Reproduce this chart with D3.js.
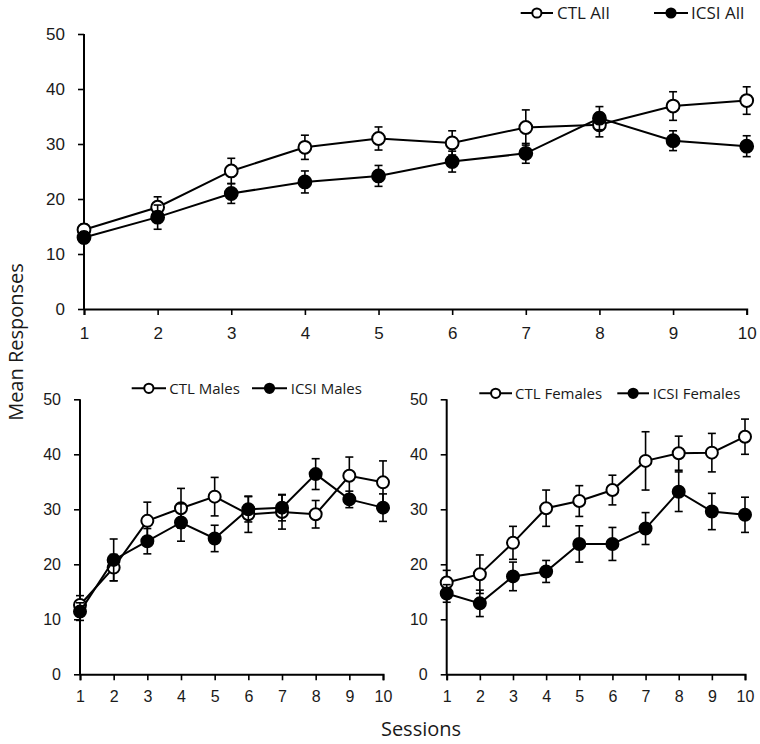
<!DOCTYPE html>
<html>
<head>
<meta charset="utf-8">
<script src="https://cdn.jsdelivr.net/npm/d3@7/dist/d3.min.js"></script>
<style>
  html, body { margin: 0; padding: 0; background: #fff; }
  svg { display: block; font-family: "Open Sans", sans-serif; }
</style>
</head>
<body>
<svg id="chart" width="760" height="744"></svg>
<script>
// ---- Data ----
const sessions = [1, 2, 3, 4, 5, 6, 7, 8, 9, 10];
const yTicks = [0, 10, 20, 30, 40, 50];

const ctlAll = [14.4, 18.5, 25.1, 29.4, 31.0, 30.2, 33.0, 33.5, 36.9, 37.9];
const ctlAllErr = [1.0, 1.9, 2.3, 2.2, 2.1, 2.2, 3.2, 2.2, 2.6, 2.5];
const icsiAll = [13.0, 16.7, 21.0, 23.1, 24.2, 26.8, 28.3, 34.7, 30.6, 29.6];
const icsiAllErr = [1.0, 2.2, 1.8, 2.0, 1.9, 1.9, 1.8, 2.1, 1.8, 1.9];

const ctlMales = [12.6, 19.4, 27.9, 30.2, 32.3, 29.1, 29.5, 29.1, 36.1, 34.9];
const ctlMalesErr = [1.7, 2.4, 3.4, 3.6, 3.5, 3.3, 3.1, 2.5, 3.4, 3.9];
const icsiMales = [11.4, 20.8, 24.2, 27.6, 24.7, 30.0, 30.3, 36.4, 31.8, 30.3];
const icsiMalesErr = [1.6, 3.8, 2.3, 3.4, 2.4, 2.3, 2.4, 2.8, 1.5, 2.5];

const ctlFemales = [16.7, 18.2, 23.9, 30.2, 31.5, 33.5, 38.8, 40.2, 40.3, 43.2];
const ctlFemalesErr = [2.2, 3.5, 3.0, 3.3, 2.8, 2.7, 5.3, 3.1, 3.5, 3.2];
const icsiFemales = [14.7, 12.9, 17.8, 18.7, 23.7, 23.7, 26.5, 33.2, 29.6, 29.0];
const icsiFemalesErr = [1.6, 2.4, 2.6, 2.0, 3.3, 3.0, 2.9, 3.6, 3.3, 3.2];

const legendTop = ["CTL All", "ICSI All"];
const legendMales = ["CTL Males", "ICSI Males"];
const legendFemales = ["CTL Females", "ICSI Females"];

const yTitle = "Mean Responses";
const xTitle = "Sessions";

// ---- Drawing ----
const svg = d3.select("#chart");

function panel(cfg) {
  const x = d3.scaleLinear().domain([1, 10]).range([cfg.x0, cfg.x1]);
  const y = d3.scaleLinear().domain([0, 50]).range([cfg.y0, cfg.y1]);
  const g = svg.append("g");

  const yAxis = d3.axisLeft(y).tickValues(yTicks).tickSize(6).tickPadding(13);
  const ga = g.append("g").attr("transform", `translate(${cfg.x0},0)`).call(yAxis);
  const xAxis = d3.axisBottom(x).tickValues(sessions).tickSize(6).tickPadding(cfg.xpad);
  const gx = g.append("g").attr("transform", `translate(0,${cfg.y0})`).call(xAxis);
  [ga, gx].forEach(a => {
    a.select(".domain").attr("stroke", "#000").attr("stroke-width", 2);
    a.selectAll(".tick line").attr("stroke", "#000").attr("stroke-width", 1.6);
    a.selectAll(".tick text").attr("fill", "#1a1a1a")
      .style("font-size", cfg.tickFont + "px");
  });
  ga.select(".domain").attr("d", `M0,${cfg.y0}V${cfg.y1}`);
  ga.selectAll(".tick text").attr("dy", "0.35em");

  cfg.series.forEach(s => {
    const pts = sessions.map((d, i) => ({ x: d, v: s.values[i], e: s.err[i] }));
    const eb = g.append("g").attr("stroke", "#000").attr("stroke-width", 1.6);
    pts.forEach(p => {
      eb.append("line").attr("x1", x(p.x)).attr("x2", x(p.x))
        .attr("y1", y(p.v - p.e)).attr("y2", y(p.v + p.e));
      [p.v - p.e, p.v + p.e].forEach(v => {
        eb.append("line").attr("x1", x(p.x) - 4).attr("x2", x(p.x) + 4)
          .attr("y1", y(v)).attr("y2", y(v));
      });
    });
    g.append("path").datum(pts)
      .attr("fill", "none").attr("stroke", "#000").attr("stroke-width", 2)
      .attr("d", d3.line().x(p => x(p.x)).y(p => y(p.v)));
    g.selectAll(null).data(pts).enter().append("circle")
      .attr("cx", p => x(p.x)).attr("cy", p => y(p.v)).attr("r", cfg.r)
      .attr("fill", s.fill).attr("stroke", "#000").attr("stroke-width", 2);
  });

  // legend
  cfg.legend.forEach((L, i) => {
    const s = cfg.series[i];
    g.append("line").attr("x1", L.l0).attr("x2", L.l1).attr("y1", cfg.ly).attr("y2", cfg.ly)
      .attr("stroke", "#000").attr("stroke-width", 2);
    g.append("circle").attr("cx", (L.l0 + L.l1) / 2).attr("cy", cfg.ly).attr("r", 4.6)
      .attr("fill", s.fill).attr("stroke", "#000").attr("stroke-width", 2);
    g.append("text").attr("x", L.tx).attr("y", cfg.ly).attr("dy", "0.35em")
      .attr("fill", "#1a1a1a").style("font-size", cfg.legFont + "px").text(L.label);
  });
}

panel({
  x0: 84, x1: 746.7, y0: 309, y1: 34, r: 6.4, tickFont: 17, xpad: 12,
  series: [
    { values: ctlAll, err: ctlAllErr, fill: "#fff" },
    { values: icsiAll, err: icsiAllErr, fill: "#000" }
  ],
  ly: 13, legFont: 17,
  legend: [
    { l0: 520.7, l1: 553, tx: 557, label: legendTop[0] },
    { l0: 654, l1: 688, tx: 691, label: legendTop[1] }
  ]
});

panel({
  x0: 80, x1: 383, y0: 674.3, y1: 399.3, r: 6.0, tickFont: 16, xpad: 10,
  series: [
    { values: ctlMales, err: ctlMalesErr, fill: "#fff" },
    { values: icsiMales, err: icsiMalesErr, fill: "#000" }
  ],
  ly: 388.3, legFont: 15,
  legend: [
    { l0: 131.7, l1: 166, tx: 169.3, label: legendMales[0] },
    { l0: 252, l1: 287, tx: 290.7, label: legendMales[1] }
  ]
});

panel({
  x0: 446.7, x1: 745, y0: 674.3, y1: 399.3, r: 6.0, tickFont: 16, xpad: 10,
  series: [
    { values: ctlFemales, err: ctlFemalesErr, fill: "#fff" },
    { values: icsiFemales, err: icsiFemalesErr, fill: "#000" }
  ],
  ly: 393.3, legFont: 15,
  legend: [
    { l0: 479.3, l1: 512, tx: 515, label: legendFemales[0] },
    { l0: 617.3, l1: 649, tx: 652.7, label: legendFemales[1] }
  ]
});

svg.append("text").attr("transform", "translate(16,342) rotate(-90)")
  .attr("text-anchor", "middle").attr("dy", "0.35em")
  .attr("fill", "#1a1a1a").style("font-size", "20px").text(yTitle);
svg.append("text").attr("x", 421).attr("y", 736).attr("text-anchor", "middle")
  .attr("fill", "#1a1a1a").style("font-size", "20px").text(xTitle);
</script>
</body>
</html>
